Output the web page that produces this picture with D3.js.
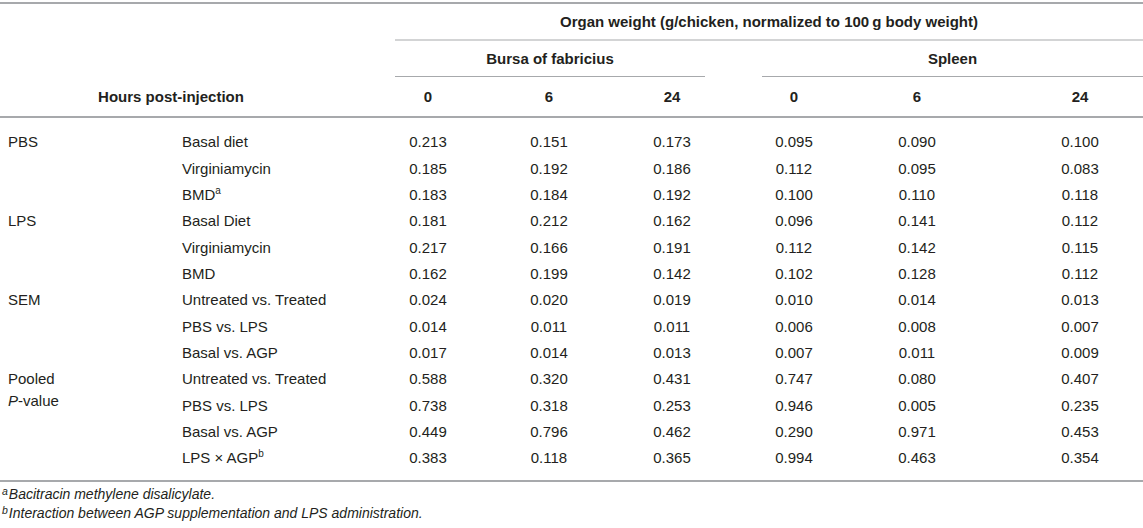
<!DOCTYPE html>
<html>
<head>
<meta charset="utf-8">
<script src="https://cdn.jsdelivr.net/npm/d3@7"></script>
<style>
  body { margin: 0; background: #fff; }
  svg text { font-family: "Liberation Sans", Arial, Helvetica, sans-serif; fill: #231f20; }
</style>
</head>
<body>
<div id="table"></div>
<script>
// table content
const titleText = "Organ weight (g/chicken, normalized to 100\u2009g body weight)";
const organs = ["Bursa of fabricius", "Spleen"];
const hours = ["0", "6", "24", "0", "6", "24"];
const stubHeader = "Hours post-injection";

const groups = [
    { label: ["PBS"], row: 0 },
    { label: ["LPS"], row: 3 },
    { label: ["SEM"], row: 6 },
    { label: ["Pooled", "P-value"], row: 9 }
];
const rowLabels = [
    ["Basal diet"], ["Virginiamycin"], ["BMD", "a"],
    ["Basal Diet"], ["Virginiamycin"], ["BMD"],
    ["Untreated vs. Treated"], ["PBS vs. LPS"], ["Basal vs. AGP"],
    ["Untreated vs. Treated"], ["PBS vs. LPS"], ["Basal vs. AGP"], ["LPS \u00d7 AGP", "b"]
];

const bursa0h  = ["0.213", "0.185", "0.183", "0.181", "0.217", "0.162", "0.024", "0.014", "0.017", "0.588", "0.738", "0.449", "0.383"];
const bursa6h  = ["0.151", "0.192", "0.184", "0.212", "0.166", "0.199", "0.020", "0.011", "0.014", "0.320", "0.318", "0.796", "0.118"];
const bursa24h = ["0.173", "0.186", "0.192", "0.162", "0.191", "0.142", "0.019", "0.011", "0.013", "0.431", "0.253", "0.462", "0.365"];
const spleen0h  = ["0.095", "0.112", "0.100", "0.096", "0.112", "0.102", "0.010", "0.006", "0.007", "0.747", "0.946", "0.290", "0.994"];
const spleen6h  = ["0.090", "0.095", "0.110", "0.141", "0.142", "0.128", "0.014", "0.008", "0.011", "0.080", "0.005", "0.971", "0.463"];
const spleen24h = ["0.100", "0.083", "0.118", "0.112", "0.115", "0.112", "0.013", "0.007", "0.009", "0.407", "0.235", "0.453", "0.354"];

const footnotes = [
    ["a", "Bacitracin methylene disalicylate."],
    ["b", "Interaction between AGP supplementation and LPS administration."]
];

const columns = [bursa0h, bursa6h, bursa24h, spleen0h, spleen6h, spleen24h];

const width = 1143, height = 528;
const svg = d3.select("#table").append("svg")
    .attr("width", width)
    .attr("height", height);

// row and column positions
const y = d3.scaleLinear().domain([0, rowLabels.length - 1]).range([142, 458]);
const x = d3.scaleOrdinal().domain(d3.range(columns.length))
    .range([428, 549, 672, 794, 917, 1080]);
const organSpan = [[395, 705], [762, 1143]];

const ruleColor = "#a7a9ac";
function rule(x1, x2, yy, w) {
    svg.append("line")
        .attr("x1", x1).attr("x2", x2)
        .attr("y1", yy).attr("y2", yy)
        .attr("stroke", ruleColor)
        .attr("stroke-width", w);
}

// rules
rule(0, width, 3, 2);
rule(395, width, 40, 1.2);
organSpan.forEach(s => rule(s[0], s[1], 76.5, 1.2));
rule(0, width, 117, 2);
rule(0, width, 481, 2);

// header
const head = svg.append("g")
    .attr("font-weight", "bold")
    .attr("font-size", 15)
    .attr("text-anchor", "middle");

head.append("text")
    .attr("x", (395 + width) / 2)
    .attr("y", 22)
    .attr("dy", "0.35em")
    .text(titleText);

head.selectAll(".organ")
    .data(organs)
    .enter().append("text")
    .attr("class", "organ")
    .attr("x", (d, i) => (organSpan[i][0] + organSpan[i][1]) / 2)
    .attr("y", 59)
    .attr("dy", "0.35em")
    .text(d => d);

head.selectAll(".hour")
    .data(hours)
    .enter().append("text")
    .attr("class", "hour")
    .attr("x", (d, i) => x(i))
    .attr("y", 97)
    .attr("dy", "0.35em")
    .text(d => d);

head.append("text")
    .attr("x", 171)
    .attr("y", 97)
    .attr("dy", "0.35em")
    .text(stubHeader);

// body
const body = svg.append("g").attr("font-size", 15);

const gText = body.selectAll(".group")
    .data(groups)
    .enter().append("text")
    .attr("class", "group")
    .attr("x", 8)
    .attr("y", d => y(d.row))
    .attr("dy", "0.35em");

gText.each(function(d) {
    const t = d3.select(this);
    t.append("tspan").text(d.label[0]);
    if (d.label.length > 1) {
        t.append("tspan")
            .attr("x", 8)
            .attr("dy", 22)
            .attr("font-style", "italic")
            .text("P");
        t.append("tspan").text("-value");
    }
});

const rText = body.selectAll(".rowlabel")
    .data(rowLabels)
    .enter().append("text")
    .attr("class", "rowlabel")
    .attr("x", 182)
    .attr("y", (d, i) => y(i))
    .attr("dy", "0.35em");

rText.append("tspan").text(d => d[0]);
rText.filter(d => d.length > 1)
    .append("tspan")
    .attr("font-size", 10)
    .attr("dy", "-0.6em")
    .text(d => d[1]);

columns.forEach((col, ci) => {
    body.selectAll(".c" + ci)
        .data(col)
        .enter().append("text")
        .attr("class", "c" + ci)
        .attr("text-anchor", "middle")
        .attr("x", x(ci))
        .attr("y", (d, i) => y(i))
        .attr("dy", "0.35em")
        .text(d => d);
});

// footnotes
const fn = svg.selectAll(".foot")
    .data(footnotes)
    .enter().append("text")
    .attr("class", "foot")
    .attr("x", 2)
    .attr("y", (d, i) => 498 + i * 19)
    .attr("dy", "0.35em")
    .attr("font-size", 14)
    .attr("font-style", "italic");

fn.append("tspan")
    .attr("font-size", 10.5)
    .attr("dy", "-0.25em")
    .text(d => d[0]);
fn.append("tspan")
    .attr("dy", "0.25em")
    .attr("dx", 1)
    .text(d => d[1]);
</script>
</body>
</html>
